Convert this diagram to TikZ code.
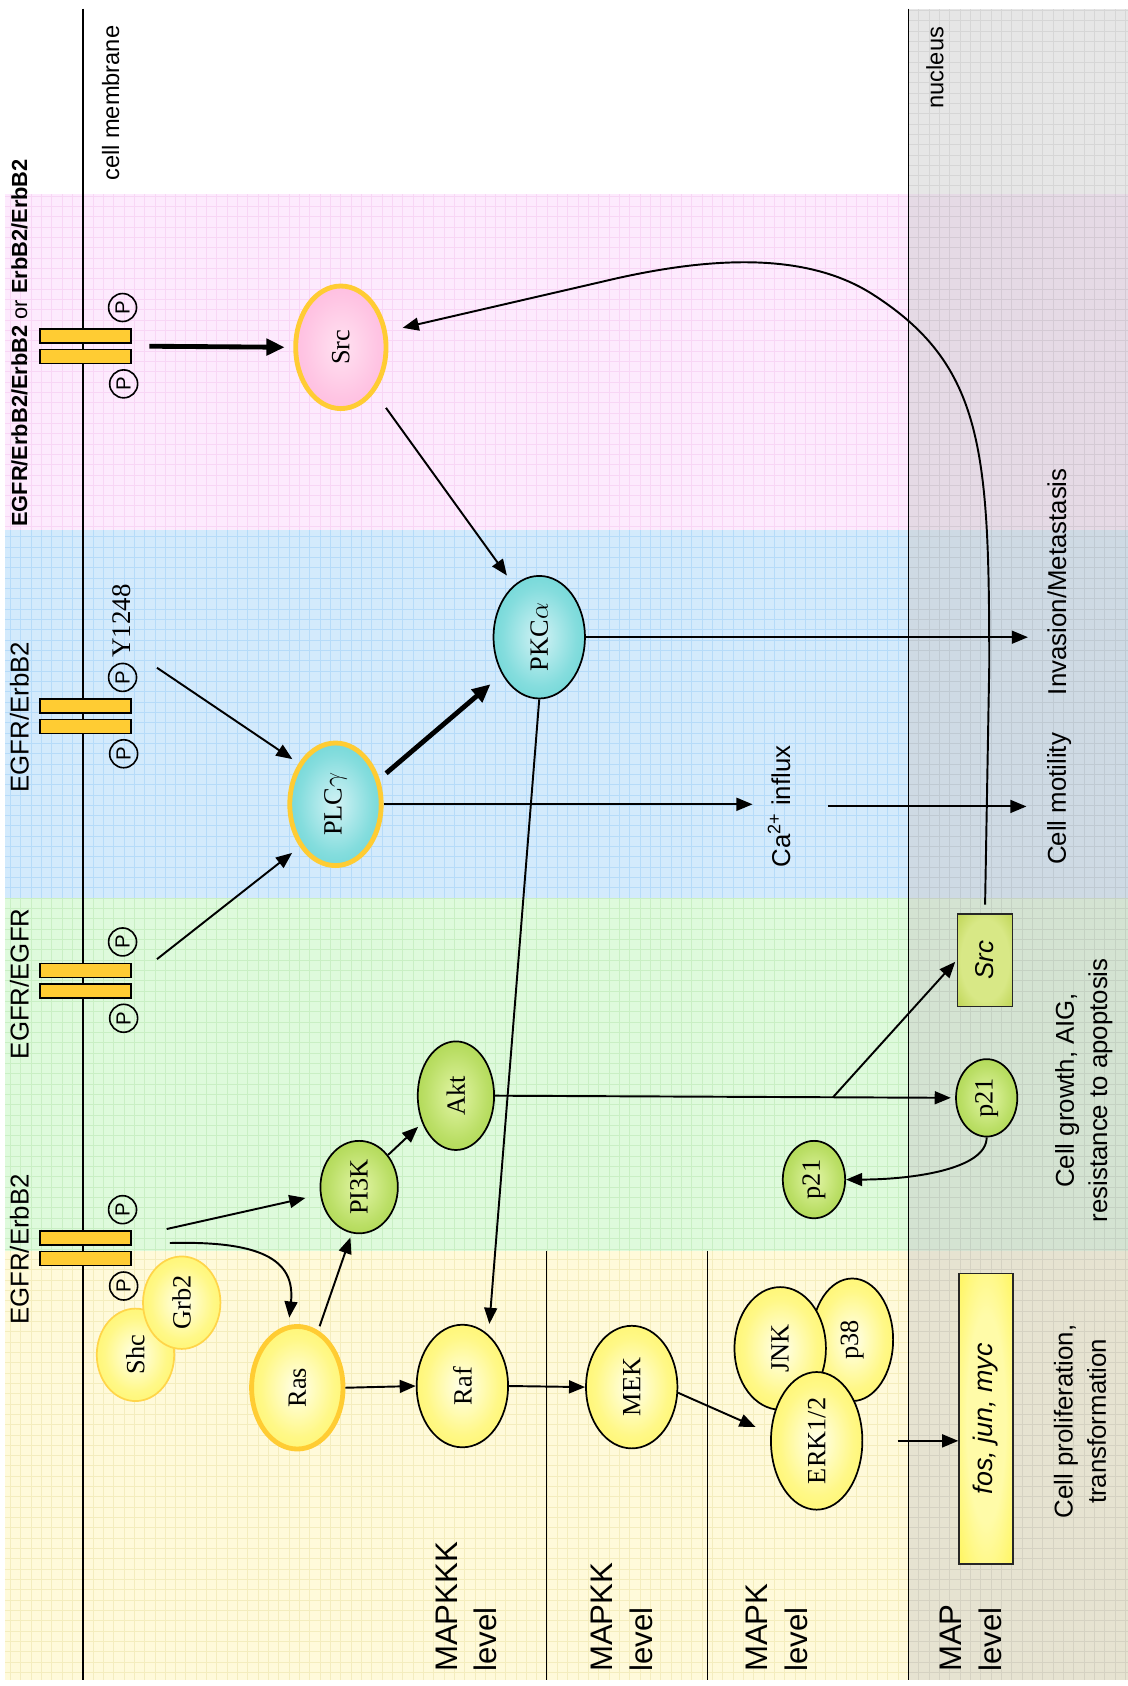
\documentclass[tikz,border=0pt]{standalone}
\usepackage{fontspec}
\setmainfont{Liberation Serif}
\setsansfont{Liberation Sans}
\usetikzlibrary{arrows.meta,shapes.geometric}

% band and grid colours
\definecolor{bgpink}{HTML}{FDEAFD}
\definecolor{gridpink}{HTML}{F8D6F5}
\definecolor{bgblue}{HTML}{D3EAFC}
\definecolor{gridblue}{HTML}{B6DBF9}
\definecolor{bggreen}{HTML}{DEFADC}
\definecolor{gridgreen}{HTML}{C9EFC4}
\definecolor{bgyellow}{HTML}{FFFADA}
\definecolor{gridyellow}{HTML}{F4EDBE}
\definecolor{nucleustint}{HTML}{C8C8C8}
% node colours
\definecolor{gold}{HTML}{FFCC33}
\definecolor{goldlight}{HTML}{FFD54A}
\definecolor{pinkin}{HTML}{FFE2F1}
\definecolor{pinkout}{HTML}{FFA2D3}
\definecolor{tealin}{HTML}{D2F2F5}
\definecolor{tealout}{HTML}{38C8C6}
\definecolor{greenin}{HTML}{E2F5A6}
\definecolor{greenout}{HTML}{8CC41A}
\definecolor{yelin}{HTML}{FFFFEC}
\definecolor{yelout}{HTML}{FFF234}
\definecolor{boxin}{HTML}{D8E886}
\definecolor{boxout}{HTML}{A8C428}
\definecolor{fosin}{HTML}{FFFBA8}

\pgfdeclareradialshading{pinkorb}{\pgfpointorigin}{color(0bp)=(pinkin); color(20bp)=(pinkin!55!pinkout); color(50bp)=(pinkout)}
\pgfdeclareradialshading{tealorb}{\pgfpointorigin}{color(0bp)=(tealin); color(20bp)=(tealin!50!tealout); color(50bp)=(tealout)}
\pgfdeclareradialshading{greenorb}{\pgfpointorigin}{color(0bp)=(greenin); color(20bp)=(greenin!55!greenout); color(50bp)=(greenout)}
\pgfdeclareradialshading{yelloworb}{\pgfpointorigin}{color(0bp)=(yelin); color(20bp)=(yelin!45!yelout); color(50bp)=(yelout)}
\pgfdeclareradialshading{boxglow}{\pgfpointorigin}{color(0bp)=(boxin); color(22bp)=(boxin); color(48bp)=(boxout); color(70bp)=(boxout)}
\pgfdeclareradialshading{fosglow}{\pgfpointorigin}{color(0bp)=(fosin); color(18bp)=(fosin); color(46bp)=(yelout); color(70bp)=(yelout)}

\tikzset{
  prot/.style={ellipse, inner sep=0pt, shade, font=\rmfamily\fontsize{24.5}{24.5}\selectfont},
  thinring/.style={draw=black, line width=1.6pt},
  goldring/.style={draw=gold, line width=4.5pt},
  softring/.style={draw=goldlight, line width=1.6pt},
  pinkfill/.style={shading=pinkorb},
  tealfill/.style={shading=tealorb},
  greenfill/.style={shading=greenorb},
  yellowfill/.style={shading=yelloworb},
  link/.style={line width=1.8pt, -{Triangle[length=15pt,width=12pt]}},
  boldlink/.style={line width=4.5pt, -{Triangle[length=17pt,width=15pt]}},
  sidetext/.style={rotate=90, inner sep=0pt, align=center, font=\sffamily\fontsize{24}{31}\selectfont},
  phos/.style={circle, draw, line width=1.5pt, inner sep=0pt, minimum size=26pt, rotate=90,
    font=\sffamily\fontsize{19}{19}\selectfont},
  bar/.style={rectangle, draw, line width=1.5pt, fill=gold, inner sep=0pt,
    minimum width=85pt, minimum height=13pt},
  levellabel/.style={sidetext, align=left, anchor=west, font=\sffamily\fontsize{29}{37}\selectfont},
}

% a receptor dimer across the membrane with its two phosphates
\newcommand\receptorpair[2]{%
  \node[bar] (#1u) at (79.5,#2-9.5) {};
  \node[bar] (#1d) at (79.5,#2+9.5) {};
  \node[phos] (#1pu) at (114,#2-36) {P};
  \node[phos] (#1pd) at (115,#2+35) {P};
}

\begin{document}
\begin{tikzpicture}[x=1pt,y=-1pt]
\useasboundingbox (0,0) rectangle (1049,1568);

% ---- compartments ----
\fill[bgpink]   (5,180)  rectangle (1049,493);
\fill[bgblue]   (5,493)  rectangle (1049,835);
\fill[bggreen]  (5,835)  rectangle (1049,1163);
\fill[bgyellow] (5,1163) rectangle (1049,1562);
\draw[gridpink,   line width=0.6pt, step=9.6pt] (5,180)  grid (845,493);
\draw[gridblue,   line width=0.6pt, step=9.6pt] (5,493)  grid (845,835);
\draw[gridgreen,  line width=0.6pt, step=9.6pt] (5,835)  grid (845,1163);
\draw[gridyellow, line width=0.6pt, step=9.6pt] (5,1163) grid (845,1562);
% nucleus: grey tint with its own grid
\fill[nucleustint, fill opacity=0.45] (845,8) rectangle (1049,1562);
\draw[black, draw opacity=0.07, line width=0.6pt, step=9.6pt] (845,8) grid (1049,1562);

% membranes and level dividers
\draw[line width=1.6pt] (77,8) -- (77,1562);
\draw[line width=1.6pt] (845,8) -- (845,1562);
\draw[line width=1.3pt] (508,1163) -- (508,1562);
\draw[line width=1.3pt] (658,1163) -- (658,1562);

% ---- captions ----
\node[sidetext, font=\sffamily\fontsize{22}{22}\selectfont] (cellmem) at (103,96) {cell membrane};
\node[sidetext, font=\sffamily\fontsize{22}{22}\selectfont] (nuc) at (869.5,63) {nucleus};
\node[sidetext, font=\sffamily\fontsize{20.3}{20.3}\selectfont] (lab1) at (18,319)
  {\textbf{EGFR/ErbB2/ErbB2} or \textbf{ErbB2/ErbB2}};
\node[sidetext] (lab2) at (18,667) {EGFR/ErbB2};
\node[sidetext] (lab3) at (18,915) {EGFR/EGFR};
\node[sidetext] (lab4) at (18,1162) {EGFR/ErbB2};
\node[sidetext, font=\rmfamily\fontsize{25}{25}\selectfont] (y1248) at (113,577.5) {Y1248};

\node[sidetext] (ca)  at (724.6,750) {Ca\textsuperscript{2+} influx};
\node[sidetext] (mot) at (985,743) {Cell motility};
\node[sidetext] (inv) at (983,541) {Invasion/Metastasis};
\node[sidetext] (growth) at (1008,1014) {Cell growth, AIG,\\resistance to apoptosis};
\node[sidetext] (prolif) at (1004.5,1322) {Cell proliferation,\\transformation};

\node[levellabel] (lvl1) at (433.8,1555) {MAPKKK\\level};
\node[levellabel] (lvl2) at (578.2,1555) {MAPKK\\level};
\node[levellabel] (lvl3) at (722.5,1555) {MAPK\\level};
\node[levellabel] (lvl4) at (902.8,1555) {MAP\\level};

% ---- receptors ----
\receptorpair{ra}{322}
\receptorpair{rb}{666}
\receptorpair{rc}{912}
\receptorpair{rd}{1161}
\coordinate (ta) at (139,322);
\coordinate (tb) at (146,621);
\coordinate (tc) at (146,892);
\coordinate (td) at (155,1143);
\coordinate (te) at (158,1156);

% ---- signalling proteins ----
\node[prot, goldring, pinkfill, minimum width=84pt, minimum height=114pt] (src) at (317,323) {\rotatebox{90}{Src}};
\node[prot, goldring, tealfill, minimum width=85pt, minimum height=114pt] (plc) at (312,748) {\rotatebox{90}{PLC$\gamma$}};
\node[prot, thinring, tealfill, minimum width=85pt, minimum height=114pt] (pkc) at (501.5,592.6) {\rotatebox{90}{PKC$\alpha$}};
\node[prot, thinring, greenfill, minimum width=72pt, minimum height=86pt] (pi3k) at (334,1104) {\rotatebox{90}{PI3K}};
\node[prot, thinring, greenfill, minimum width=71pt, minimum height=101pt] (akt) at (424,1019) {\rotatebox{90}{Akt}};
\node[prot, thinring, greenfill, minimum width=57pt, minimum height=72pt] (p21a) at (917.6,1021) {\rotatebox{90}{p21}};
\node[prot, thinring, greenfill, minimum width=58pt, minimum height=72pt] (p21b) at (757,1097) {\rotatebox{90}{p21}};
\node[prot, softring, yellowfill, minimum width=72pt, minimum height=86pt] (shc) at (126,1260) {\rotatebox{90}{Shc}};
\node[prot, softring, yellowfill, minimum width=72pt, minimum height=86pt] (grb2) at (169,1211.5) {\rotatebox{90}{Grb2}};
\node[prot, goldring, yellowfill, minimum width=85pt, minimum height=114pt] (ras) at (276.5,1290.6) {\rotatebox{90}{Ras}};
\node[prot, thinring, yellowfill, minimum width=85pt, minimum height=114pt] (raf) at (430,1289) {\rotatebox{90}{Raf}};
\node[prot, thinring, yellowfill, minimum width=85pt, minimum height=114pt] (mek) at (587.5,1290) {\rotatebox{90}{MEK}};
\node[prot, thinring, yellowfill, minimum width=76pt, minimum height=114pt] (p38) at (792.6,1246) {\rotatebox{90}{p38}};
\node[prot, thinring, yellowfill, minimum width=85pt, minimum height=114pt] (jnk) at (725.6,1254) {\rotatebox{90}{JNK}};
\node[prot, thinring, yellowfill, minimum width=85pt, minimum height=128pt] (erk) at (759.5,1340) {\rotatebox{90}{ERK1/2}};

\node[rectangle, draw=black!85, line width=1.5pt, shade, shading=boxglow, inner sep=0pt,
  minimum width=51pt, minimum height=86pt, font=\sffamily\itshape\fontsize{24}{24}\selectfont]
  (srcbox) at (916,893) {\rotatebox{90}{Src}};
\node[rectangle, draw=black!85, line width=1.5pt, shade, shading=fosglow, inner sep=0pt,
  minimum width=50pt, minimum height=270pt, font=\sffamily\itshape\fontsize{25}{25}\selectfont]
  (fos) at (917,1319.5) {\rotatebox{90}{fos, jun, myc}};

% ---- connections ----
\draw[boldlink, shorten >=8pt] (ta) -- (src.west);
\draw[link, shorten >=7pt] (tb) -- (plc.132);
\draw[link, shorten >=9pt] (tc) -- (plc.230);
\draw[boldlink, shorten <=8pt, shorten >=14pt] (plc.30) -- (pkc.225);
\draw[link, shorten <=18pt, shorten >=11pt] (src.307) -- (pkc.116);
\draw[link, shorten >=18pt] (pkc.east) -- (pkc.east -| inv.north);
\draw[link, shorten >=14pt] (plc.east) -- (plc.east -| ca.north);
\draw[link, shorten <=35pt, shorten >=19pt] (ca.south) -- (ca.south -| mot.north);
\draw[link, shorten >=10pt] (pkc.south) -- (raf.63);

\draw[link, shorten >=4pt] (akt.east) -- (p21a.west);
\path (akt.east) -- (p21a.west) coordinate[pos=0.7345] (fork);
\draw[link, shorten >=2pt] (fork) -- (srcbox.west);
\draw[link] (p21a.south) .. controls +(0,30) and +(60,0) .. (p21b.east);
\draw[link, shorten <=8pt, shorten >=15pt] (srcbox.north) -- (920,620)
  .. controls (920,420) and (915,340) .. (812,274)
  .. controls (750,234) and (660,238) .. (560,262) -- (src.19);

\draw[link, shorten >=14pt] (td) -- (pi3k.191);
\draw[link, shorten >=7pt] (te) .. controls (240,1154) and (275,1170) .. (ras.98);
\draw[link, shorten <=4pt, shorten >=4pt] (ras.70) -- (pi3k.261);
\draw[link, shorten >=5pt] (pi3k.48) -- (akt.219);
\draw[link] (ras.east) -- (raf.west);
\draw[link] (raf.east) -- (mek.west);
\draw[link, shorten >=15pt] (mek.353) -- (erk.171);
\draw[link, shorten <=32pt] (erk.east) -- (erk.east -| fos.west);
\end{tikzpicture}
\end{document}
